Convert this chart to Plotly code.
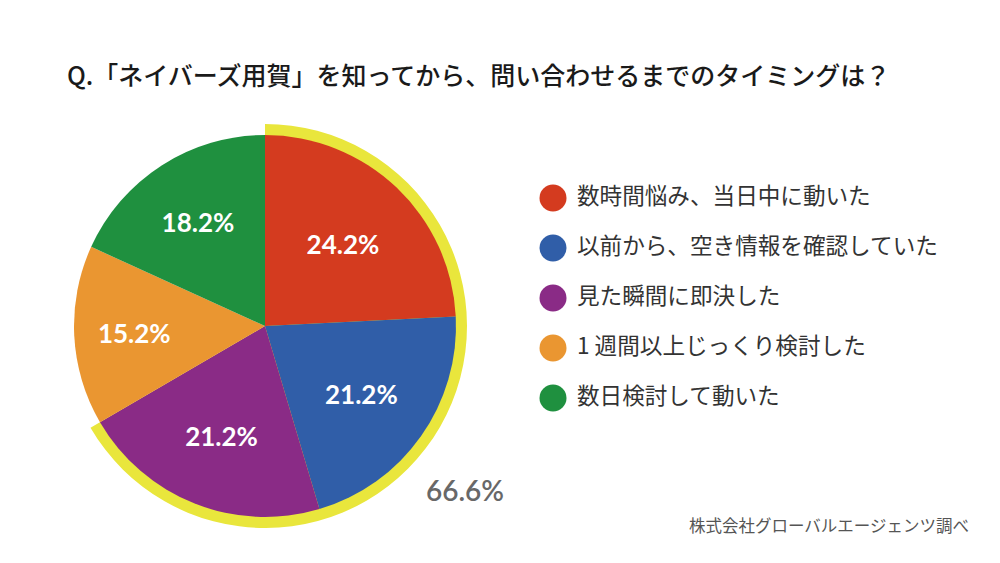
import plotly.graph_objects as go

# answers (clockwise from 12 o'clock) and share in %
labels = ["数時間悩み、当日中に動いた", "以前から、空き情報を確認していた",
          "見た瞬間に即決した", "1 週間以上じっくり検討した", "数日検討して動いた"]
values = [24.2, 21.2, 21.2, 15.2, 18.2]
colors = ["#D43B1F", "#305EA8", "#8A2B86", "#EA9631", "#1F903F"]

# first three answers are highlighted with a yellow arc
n_highlight = 3
highlight = round(sum(values[:n_highlight]), 1)
rest = round(sum(values) - highlight, 1)

W, H = 1000, 563
OFF = 8                 # page body margin shifts the plot by this much
cx, cy = 265 - OFF, 326 - OFF   # pie centre in px
r_pie, r_ring = 191, 202


def dom(r):
    return dict(x=[(cx - r) / W, (cx + r) / W],
                y=[(H - cy - r) / H, (H - cy + r) / H])


def px_x(x):
    return (x - OFF) / W


def px_y(y):
    return (H - (y - OFF)) / H


fig = go.Figure()

# yellow arc behind the pie
fig.add_trace(go.Pie(
    values=[highlight, rest],
    marker=dict(colors=["#E9E63C", "rgba(0,0,0,0)"], line=dict(width=0)),
    sort=False, direction="clockwise", rotation=0,
    textinfo="none", hoverinfo="skip", showlegend=False,
    domain=dom(r_ring),
))

# main pie
fig.add_trace(go.Pie(
    labels=labels, values=values,
    marker=dict(colors=colors, line=dict(width=0)),
    sort=False, direction="clockwise", rotation=0,
    texttemplate="%{value:.1f}%", textposition="inside",
    insidetextorientation="horizontal",
    textfont=dict(family="Lato", size=26, color="white", weight="bold"),
    showlegend=False,
    domain=dom(r_pie),
))

# custom legend: round markers + labels
fig.add_trace(go.Scatter(
    x=[0] * len(labels), y=labels,
    mode="markers",
    marker=dict(size=27, color=colors),
    cliponaxis=False, showlegend=False, hoverinfo="skip",
))
fig.add_trace(go.Scatter(
    x=[6] * len(labels), y=labels,
    mode="text",
    text=labels, textposition="middle right",
    textfont=dict(family="Noto Sans CJK JP", size=22.6, color="#333333"),
    cliponaxis=False, showlegend=False, hoverinfo="skip",
))

fig.add_annotation(
    text=f"{highlight}%", x=px_x(465), y=px_y(490), xref="paper", yref="paper",
    xanchor="center", yanchor="middle", showarrow=False,
    font=dict(family="Lato", size=28, color="#686868", weight=600),
)
fig.add_annotation(
    text="株式会社グローバルエージェンツ調べ", x=px_x(971), y=px_y(525),
    xref="paper", yref="paper", xanchor="right", yanchor="middle", showarrow=False,
    font=dict(family="Noto Sans CJK JP", size=16.5, color="#555555"),
)

fig.update_layout(
    width=W, height=H,
    margin=dict(l=0, r=0, t=0, b=0),
    paper_bgcolor="white", plot_bgcolor="white",
    title=dict(
        text="Q.「ネイバーズ用賀」を知ってから、問い合わせるまでのタイミングは？",
        x=px_x(67), xanchor="left", y=px_y(76), yanchor="middle",
        font=dict(family="Noto Sans CJK JP", size=25, color="#1a1a1a", weight=500),
    ),
    xaxis=dict(domain=[px_x(553), px_x(953)], range=[0, 100],
               visible=False, fixedrange=True),
    yaxis=dict(domain=[px_y(423), px_y(173)], range=[4.5, -0.5],
               visible=False, fixedrange=True, type="category"),
)

fig.write_html("out.html")
